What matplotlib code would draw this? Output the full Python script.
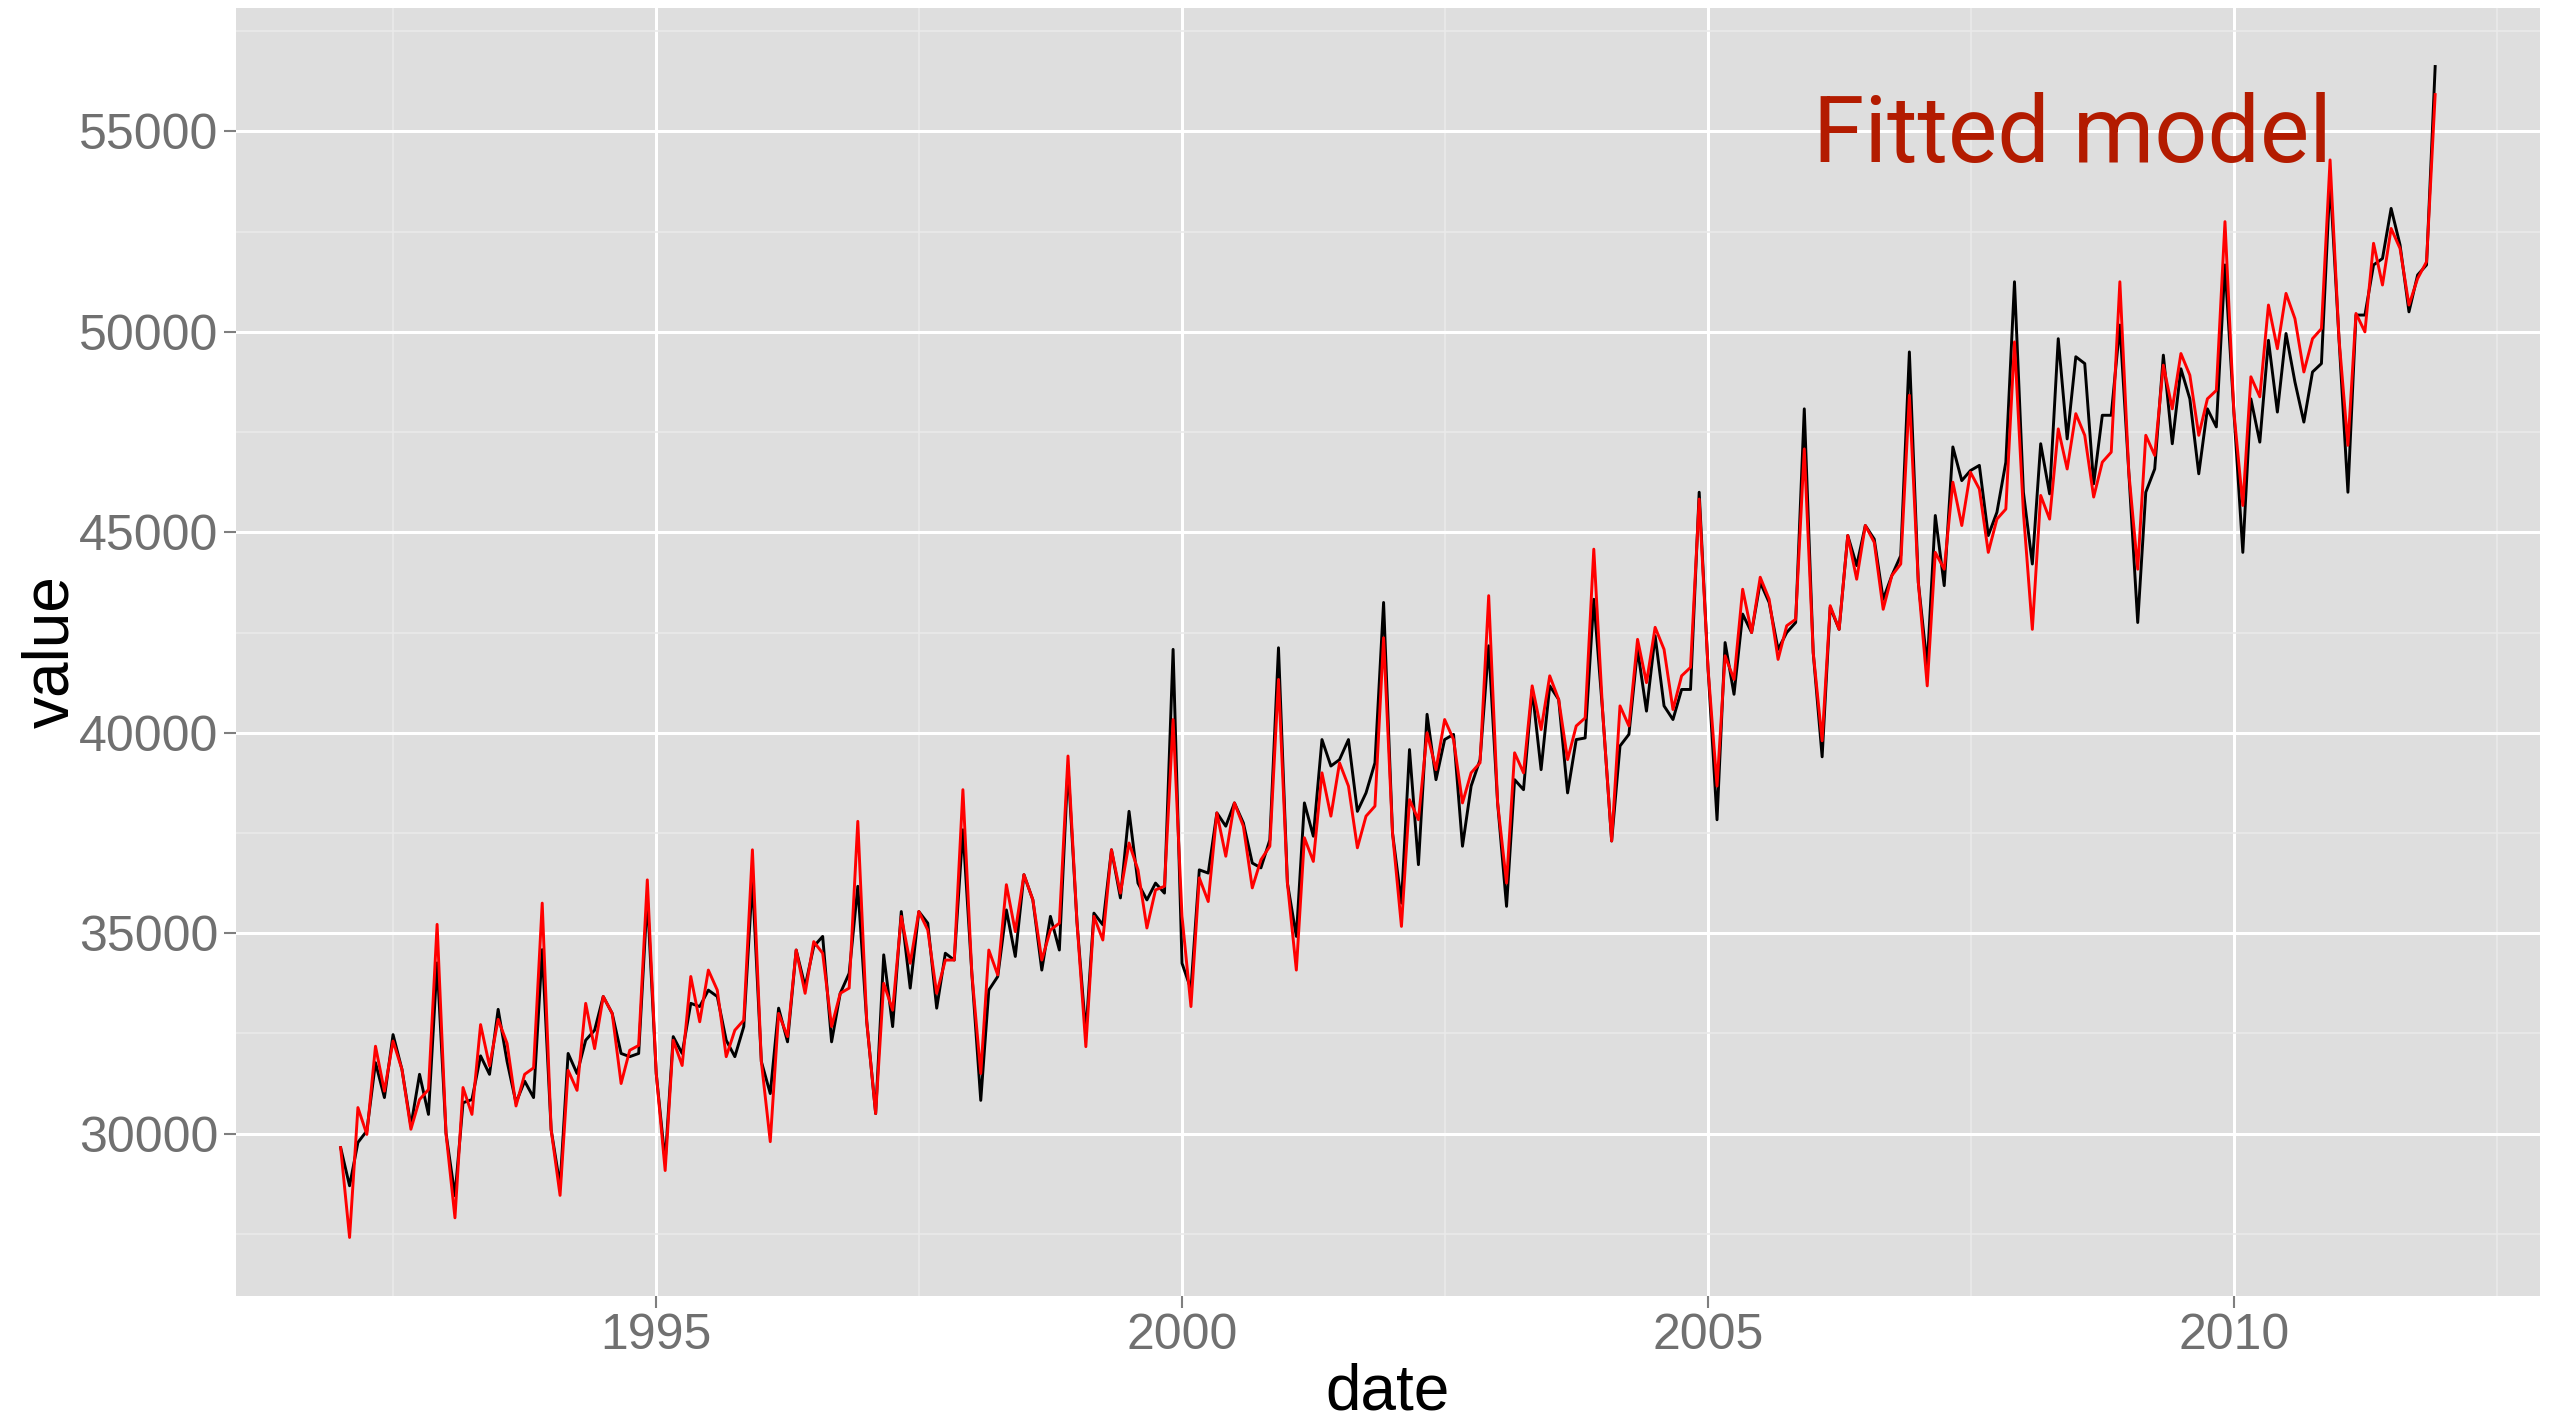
import numpy as np
import pandas as pd
import matplotlib
matplotlib.use('Agg')
import matplotlib.pyplot as plt
import matplotlib.dates as mdates
from matplotlib.ticker import FixedLocator

plt.rcParams['font.family'] = ['Liberation Sans', 'DejaVu Sans']

# monthly series, Jan 1992 .. Dec 2011 (one row per year)
dates = pd.date_range('1992-01-01', periods=240, freq='MS')

actual = [
    29650, 28700, 29780, 30070, 31770, 30900, 32470, 31600, 30190, 31480, 30480, 34260,
    30000, 28450, 30770, 30850, 31940, 31480, 33100, 31800, 30770, 31310, 30900, 34590,
    30100, 28700, 32000, 31500, 32330, 32580, 33420, 33000, 32000, 31920, 32000, 35900,
    31500, 29300, 32420, 32000, 33250, 33170, 33580, 33420, 32330, 31920, 32670, 36330,
    31800, 31000, 33130, 32290, 34580, 33670, 34670, 34920, 32290, 33500, 34000, 36170,
    32800, 30500, 34460, 32670, 35540, 33630, 35540, 35250, 33130, 34500, 34330, 37580,
    34000, 30830, 33580, 33920, 35580, 34420, 36460, 35830, 34080, 35420, 34580, 39170,
    35300, 32500, 35500, 35210, 37080, 35880, 38040, 36250, 35830, 36250, 36000, 42080,
    34250, 33600, 36580, 36500, 38000, 37670, 38250, 37750, 36750, 36630, 37330, 42120,
    36250, 34920, 38250, 37420, 39830, 39170, 39330, 39830, 38040, 38500, 39250, 43250,
    37500, 35750, 39580, 36710, 40460, 38830, 39830, 39960, 37170, 38670, 39330, 42170,
    38250, 35670, 38830, 38580, 41080, 39080, 41170, 40830, 38500, 39830, 39870, 43330,
    40500, 37300, 39670, 39960, 42080, 40540, 42420, 40670, 40330, 41080, 41080, 46000,
    41580, 37830, 42250, 40960, 42960, 42500, 43750, 43250, 42080, 42500, 42750, 48080,
    42000, 39400, 43130, 42580, 44920, 44170, 45170, 44830, 43330, 43920, 44420, 49500,
    43750, 41670, 45420, 43670, 47130, 46290, 46540, 46670, 44920, 45500, 46750, 51250,
    46000, 44210, 47210, 45960, 49830, 47330, 49380, 49210, 46210, 47920, 47920, 50170,
    46500, 42750, 46000, 46580, 49420, 47210, 49080, 48330, 46460, 48080, 47630, 51670,
    48000, 44500, 48330, 47250, 49790, 48000, 49960, 48750, 47750, 49000, 49210, 53800,
    49830, 46000, 50420, 50420, 51670, 51830, 53080, 52170, 50500, 51420, 51670, 56620,
]

fitted = [
    29650, 27410, 30650, 29980, 32180, 31060, 32310, 31600, 30110, 30850, 31100, 35220,
    30000, 27900, 31150, 30480, 32720, 31690, 32850, 32250, 30690, 31480, 31640, 35750,
    30100, 28460, 31580, 31080, 33250, 32120, 33420, 33000, 31250, 32080, 32200, 36330,
    31500, 29080, 32330, 31700, 33920, 32790, 34080, 33580, 31920, 32580, 32830, 37080,
    31800, 29800, 33000, 32420, 34580, 33500, 34790, 34500, 32670, 33500, 33630, 37790,
    32800, 30500, 33750, 33080, 35420, 34250, 35540, 35080, 33500, 34330, 34330, 38580,
    34000, 31500, 34580, 33960, 36210, 35040, 36460, 35830, 34330, 35080, 35250, 39420,
    35300, 32170, 35420, 34830, 37080, 36000, 37250, 36580, 35130, 36080, 36170, 40330,
    35420, 33170, 36380, 35790, 38000, 36920, 38250, 37670, 36130, 36830, 37170, 41330,
    36250, 34080, 37380, 36790, 39000, 37920, 39250, 38670, 37130, 37920, 38170, 42370,
    37500, 35170, 38330, 37830, 40000, 39080, 40330, 39830, 38250, 39000, 39250, 43420,
    38250, 36250, 39500, 39000, 41170, 40080, 41420, 40830, 39330, 40170, 40370, 44580,
    40500, 37300, 40670, 40170, 42330, 41250, 42630, 42080, 40580, 41420, 41630, 45830,
    41580, 38670, 41920, 41330, 43580, 42500, 43880, 43330, 41830, 42670, 42830, 47080,
    42000, 39800, 43170, 42580, 44920, 43830, 45170, 44750, 43080, 43920, 44210, 48420,
    43750, 41170, 44500, 44080, 46250, 45170, 46500, 46080, 44500, 45330, 45580, 49750,
    45500, 42580, 45920, 45330, 47580, 46580, 47960, 47420, 45880, 46750, 47000, 51250,
    46500, 44080, 47420, 46920, 49170, 48080, 49460, 48920, 47420, 48330, 48540, 52750,
    48000, 45670, 48880, 48380, 50670, 49580, 50960, 50330, 49000, 49830, 50080, 54290,
    49830, 47170, 50460, 50000, 52210, 51170, 52580, 52080, 50670, 51330, 51750, 55920,
]

y_major = [30000, 35000, 40000, 45000, 50000, 55000]
y_minor = [27500, 32500, 37500, 42500, 47500, 52500, 57500]
x_major = pd.to_datetime(['1995-01-01', '2000-01-01', '2005-01-01', '2010-01-01'])
x_minor = pd.to_datetime(['1992-07-02', '1997-07-02', '2002-07-02', '2007-07-02', '2012-07-02'])

fig = plt.figure(figsize=(25.56, 14.22), dpi=100)
ax = fig.add_axes([0.0923, 0.0886, 0.9014, 0.9058])
ax.set_facecolor('#DEDEDE')

ax.plot(dates, actual, color='black', lw=2.1, zorder=3)
ax.plot(dates, fitted, color='#FF0000', lw=2.1, zorder=4)

ax.margins(x=0.05, y=0.05)

ax.xaxis.set_major_locator(FixedLocator(mdates.date2num(x_major)))
ax.xaxis.set_minor_locator(FixedLocator(mdates.date2num(x_minor)))
ax.xaxis.set_major_formatter(mdates.DateFormatter('%Y'))
ax.yaxis.set_major_locator(FixedLocator(y_major))
ax.yaxis.set_minor_locator(FixedLocator(y_minor))

ax.grid(which='major', color='white', lw=2.2, zorder=1)
ax.grid(which='minor', color='#EAEAEA', lw=1.1, zorder=1)
ax.set_axisbelow(True)

for s in ax.spines.values():
    s.set_visible(False)

ax.tick_params(which='major', length=8.5, width=1.5, color='#7F7F7F',
               labelsize=36, labelcolor='#707070', pad=4)
ax.tick_params(which='minor', length=0)

ax.set_xlabel('date', fontsize=46, color='black')
ax.set_ylabel('value', fontsize=46, color='black')
ax.xaxis.set_label_coords(0.5, -0.052)
ax.yaxis.set_label_coords(-0.067, 0.5)

ax.text(pd.Timestamp('2006-01-01'), 54230, 'Fitted model', fontsize=67,
        color='#B31B00', fontweight='normal', va='baseline', ha='left',
        family=['Roboto', 'Liberation Sans', 'DejaVu Sans'], zorder=5)

fig.savefig('out.png', dpi=100)
